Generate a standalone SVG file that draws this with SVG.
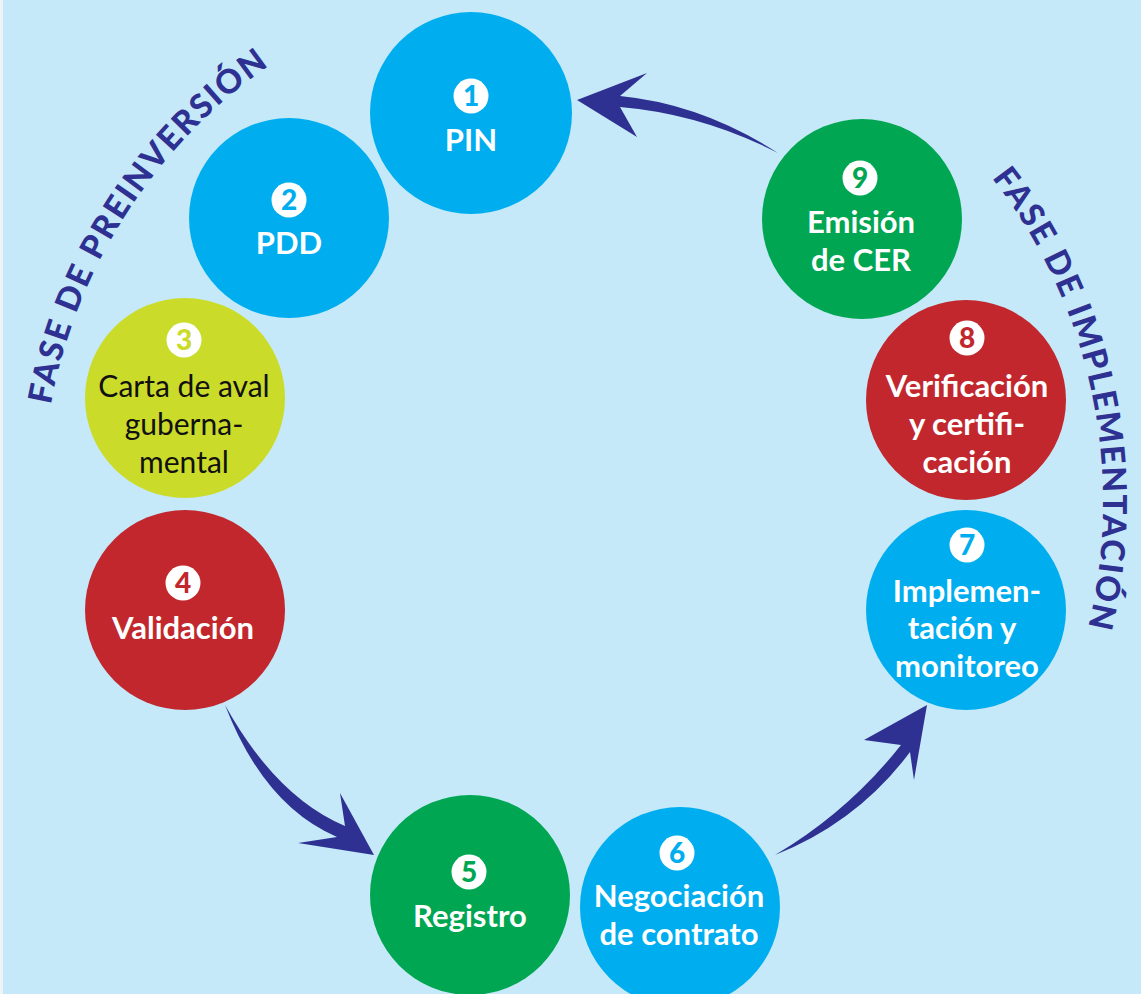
<svg xmlns="http://www.w3.org/2000/svg" width="1141" height="994" viewBox="0 0 1141 994">
<style>
.lbl{font-family:Lato,"Open Sans","Liberation Sans",sans-serif;font-weight:bold;font-size:31px;fill:#ffffff;text-anchor:middle}
.lbl-dark{font-family:Lato,"Open Sans","Liberation Sans",sans-serif;font-weight:normal;font-size:30px;fill:#111111;text-anchor:middle}
.num{font-family:Lato,"Open Sans","Liberation Sans",sans-serif;font-weight:900;font-size:28px;text-anchor:middle}
.phase{font-family:Lato,"Open Sans","Liberation Sans",sans-serif;font-weight:900;font-size:33px;fill:#2e3192;letter-spacing:1.9px}
.arrow{fill:#2e3192}
.blue{fill:#00aeef}.green{fill:#00a651}.lime{fill:#cbdb2a}.red{fill:#c1272d}
</style>
<defs>
<path id="arcL" d="M 56.7 627.1 A 533 533 0 0 1 450.6 -16.3" fill="none"/>
<path id="arcR" d="M 810.6 29.5 A 528 528 0 0 1 999.5 816.1" fill="none"/>
</defs>
<rect x="0" y="0" width="1141" height="994" fill="#c5e9f9"/>
<rect x="0" y="0" width="3" height="994" fill="#eef3f5"/>

<g id="phase-labels">
<text class="phase"><textPath href="#arcL" startOffset="51.5%" text-anchor="middle">FASE DE PREINVERSIÓN</textPath></text>
<text class="phase"><textPath href="#arcR" startOffset="51.5%" text-anchor="middle">FASE DE IMPLEMENTACIÓN</textPath></text>
</g>

<g id="connectors">
<path class="arrow" d="M 778 153 Q 702 104 620 96 L 647 73 L 577 100 L 637 137 L 620 107 Q 702 114 778 153 Z"/>
<path class="arrow" d="M 225 705 Q 276 797 345 826 L 340 793 L 374 855 L 298 843 L 337 837 Q 264 806 225 705 Z"/>
<path class="arrow" d="M 775 855 Q 848 812 901 745 L 864 740 L 927 705 L 914 780 L 910 752 Q 858 822 775 855 Z"/>
</g>

<g id="node1">
<circle class="blue" cx="471" cy="113" r="101"/>
<circle cx="471" cy="96" r="17.5" fill="#fff"/>
<text class="num" x="471" y="106" fill="#00aeef">1</text>
<text class="lbl" x="471" y="151">PIN</text>
</g>
<g id="node2">
<circle class="blue" cx="289" cy="218" r="100"/>
<circle cx="289" cy="200" r="17.5" fill="#fff"/>
<text class="num" x="289" y="210" fill="#00aeef">2</text>
<text class="lbl" x="289" y="254">PDD</text>
</g>
<g id="node3">
<circle class="lime" cx="185" cy="398" r="100"/>
<circle cx="184" cy="340" r="17.5" fill="#fff"/>
<text class="num" x="184" y="350" fill="#cbdb2a">3</text>
<text class="lbl-dark" x="184" y="397">Carta de aval</text>
<text class="lbl-dark" x="184" y="435">guberna-</text>
<text class="lbl-dark" x="184" y="473">mental</text>
</g>
<g id="node4">
<circle class="red" cx="185" cy="610" r="100"/>
<circle cx="183" cy="583" r="17.5" fill="#fff"/>
<text class="num" x="183" y="593" fill="#c1272d">4</text>
<text class="lbl" x="183" y="639">Validación</text>
</g>
<g id="node5">
<circle class="green" cx="470" cy="895" r="100"/>
<circle cx="469" cy="872" r="17.5" fill="#fff"/>
<text class="num" x="469" y="882" fill="#00a651">5</text>
<text class="lbl" x="470" y="927">Registro</text>
</g>
<g id="node6">
<circle class="blue" cx="680" cy="907" r="100"/>
<circle cx="677" cy="853" r="17.5" fill="#fff"/>
<text class="num" x="677" y="863" fill="#00aeef">6</text>
<text class="lbl" x="679" y="907">Negociación</text>
<text class="lbl" x="679" y="945">de contrato</text>
</g>
<g id="node7">
<circle class="blue" cx="966" cy="610" r="100"/>
<circle cx="967" cy="545" r="17.5" fill="#fff"/>
<text class="num" x="967" y="555" fill="#00aeef">7</text>
<text class="lbl" x="967" y="602">Implemen-</text>
<text class="lbl" x="962" y="639">tación y</text>
<text class="lbl" x="967" y="677">monitoreo</text>
</g>
<g id="node8">
<circle class="red" cx="966" cy="400" r="100"/>
<circle cx="967" cy="338" r="17.5" fill="#fff"/>
<text class="num" x="967" y="348" fill="#c1272d">8</text>
<text class="lbl" x="967" y="397">Verificación</text>
<text class="lbl" x="967" y="435">y certifi-</text>
<text class="lbl" x="967" y="473">cación</text>
</g>
<g id="node9">
<circle class="green" cx="862" cy="219" r="100"/>
<circle cx="860" cy="178" r="17.5" fill="#fff"/>
<text class="num" x="860" y="188" fill="#00a651">9</text>
<text class="lbl" x="861" y="233">Emisión</text>
<text class="lbl" x="861" y="271">de CER</text>
</g>
</svg>
